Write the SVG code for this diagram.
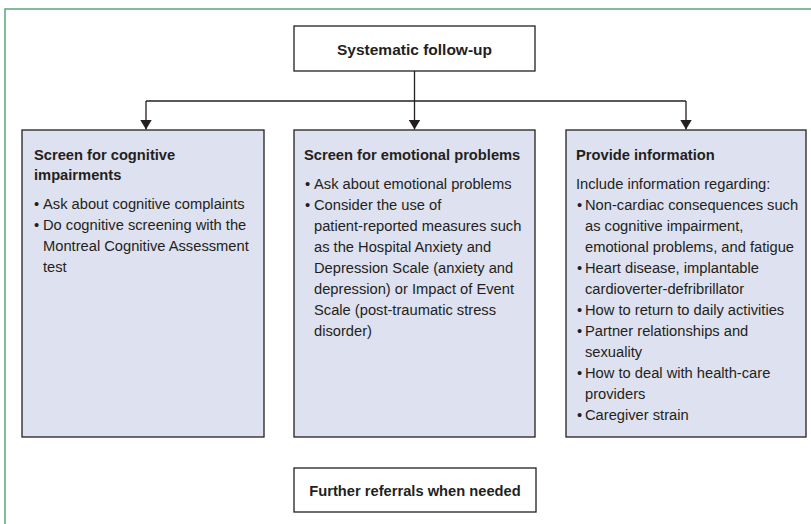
<svg xmlns="http://www.w3.org/2000/svg" width="811" height="524" viewBox="0 0 811 524">
<style>
text{font-family:"Liberation Sans",Arial,sans-serif;fill:#231f20;font-size:14.7px}
.b{font-weight:bold}
.t{font-weight:bold;text-anchor:middle}
.box{fill:#dee1ef;stroke:#231f20;stroke-width:1.3}
.wbox{fill:#ffffff;stroke:#231f20;stroke-width:1.3}
.con{fill:none;stroke:#231f20;stroke-width:1.3}
</style>
<defs>
<marker id="ah" viewBox="0 0 10 12" refX="10" refY="6" markerWidth="10" markerHeight="12" markerUnits="userSpaceOnUse" orient="auto">
<path d="M0,0 L10,6 L0,12 z" fill="#231f20"/>
</marker>
</defs>
<rect x="0" y="0" width="811" height="524" fill="#ffffff"/>
<rect id="frame" x="5" y="9" width="830" height="540" fill="none" stroke="#5aa57a" stroke-width="1.5"/>
<g id="connectors">
<path class="con" d="M414.5 71 V101"/>
<path class="con" d="M146 101 H686"/>
<path class="con" d="M146 101 V129.5" marker-end="url(#ah)"/>
<path class="con" d="M414.5 101 V129.5" marker-end="url(#ah)"/>
<path class="con" d="M686 101 V129.5" marker-end="url(#ah)"/>
</g>
<g id="top">
<rect class="wbox" x="294" y="26" width="241" height="45"/>
<text class="t" x="414.5" y="55" style="font-size:15.5px">Systematic follow-up</text>
</g>
<g id="cognitive">
<rect class="box" x="22" y="130" width="242" height="307"/>
<text class="b" x="34" y="160">Screen for cognitive</text>
<text class="b" x="34" y="180">impairments</text>
<text x="34" y="209">•</text><text x="43" y="209">Ask about cognitive complaints</text>
<text x="34" y="230">•</text><text x="43" y="230">Do cognitive screening with the</text>
<text x="43" y="251">Montreal Cognitive Assessment</text>
<text x="43" y="272">test</text>
</g>
<g id="emotional">
<rect class="box" x="294" y="130" width="241" height="307"/>
<text class="b" x="304" y="160">Screen for emotional problems</text>
<text x="305" y="189">•</text><text x="314" y="189">Ask about emotional problems</text>
<text x="305" y="210">•</text><text x="314" y="210">Consider the use of</text>
<text x="314" y="231">patient-reported measures such</text>
<text x="314" y="252">as the Hospital Anxiety and</text>
<text x="314" y="273">Depression Scale (anxiety and</text>
<text x="314" y="294">depression) or Impact of Event</text>
<text x="314" y="315">Scale (post-traumatic stress</text>
<text x="314" y="336">disorder)</text>
</g>
<g id="information">
<rect class="box" x="566" y="130" width="240" height="307"/>
<text class="b" x="576" y="160">Provide information</text>
<text x="576" y="189">Include information regarding:</text>
<text x="577" y="210">•</text><text x="585" y="210">Non-cardiac consequences such</text>
<text x="585" y="231">as cognitive impairment,</text>
<text x="585" y="252">emotional problems, and fatigue</text>
<text x="577" y="273">•</text><text x="585" y="273">Heart disease, implantable</text>
<text x="585" y="294">cardioverter-defribrillator</text>
<text x="577" y="315">•</text><text x="585" y="315">How to return to daily activities</text>
<text x="577" y="336">•</text><text x="585" y="336">Partner relationships and</text>
<text x="585" y="357">sexuality</text>
<text x="577" y="378">•</text><text x="585" y="378">How to deal with health-care</text>
<text x="585" y="399">providers</text>
<text x="577" y="420">•</text><text x="585" y="420">Caregiver strain</text>
</g>
<g id="referrals">
<rect class="wbox" x="294" y="468" width="242" height="44"/>
<text class="t" x="415" y="495.5">Further referrals when needed</text>
</g>
</svg>
